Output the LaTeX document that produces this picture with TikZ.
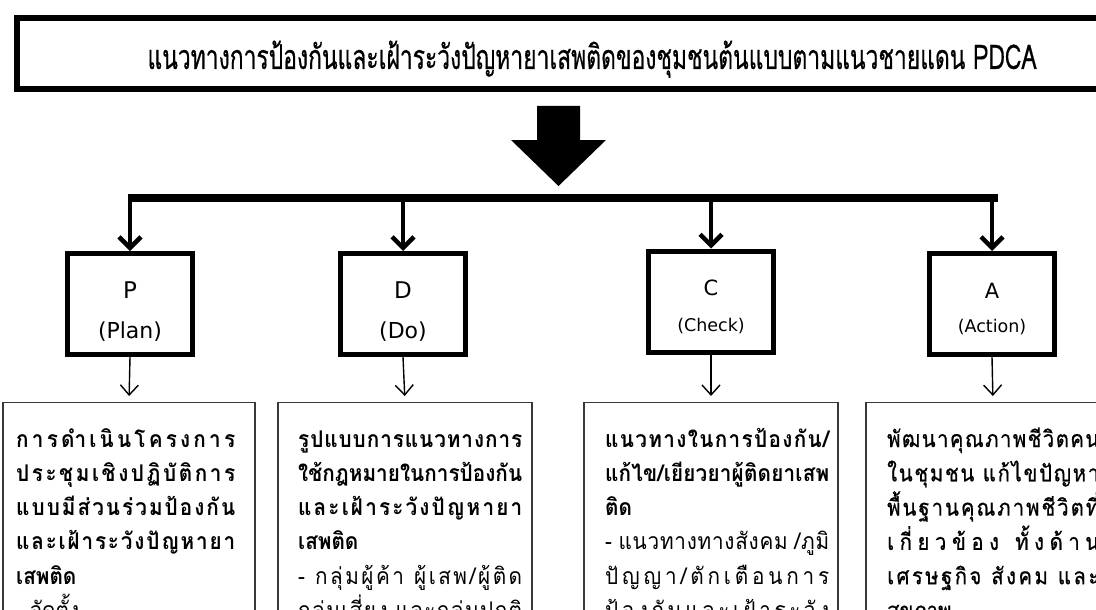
\documentclass[tikz,border=0pt]{standalone}
\usepackage{fontspec}
\usepackage{graphicx}
\setmainfont{Loma}[Script=Thai]
\newfontfamily\titlefont{Loma}[Script=Thai,FakeBold=0.6]
\newfontfamily\boxfont{Loma}[Script=Thai,FakeStretch=0.9]
\newfontfamily\medfont{Loma}[Script=Thai,FakeStretch=0.88,FakeBold=0.7]
\newfontfamily\labfont{DejaVu Sans}
\usetikzlibrary{arrows.meta}
\newcommand\gp{\hfill}
\newlength\lw
\newcommand\dl[1]{\makebox[\lw][s]{#1}\\}
\begin{document}
\begin{tikzpicture}[x=1pt,y=-1pt,
  titlebox/.style={draw, line width=6pt, minimum width=1150pt, minimum height=71pt, inner sep=0pt},
  headbox/.style={draw, line width=5pt, minimum width=125pt, minimum height=101pt, inner sep=0pt},
  detailbox/.style={draw=black!78, line width=1.3pt, minimum width=252pt, minimum height=400pt, anchor=north, inner sep=0pt},
  lab/.style={anchor=base, inner sep=0pt},
  txtblk/.style={anchor=base west, inner sep=0pt},
  busline/.style={line width=8pt},
  droparrow/.style={line width=4.5pt, -{Straight Barb[length=11pt,width=22pt]}},
  thinarrow/.style={line width=1.4pt, -{Straight Barb[length=10pt,width=18pt]}, shorten >=6pt}]
\useasboundingbox (0,0) rectangle (1096,610);
\clip (0,0) rectangle (1096,610);
% title
\node[titlebox] (tb) at (592,53.5) {};
\node[lab] (tt) at (592,69) {\fontsize{34}{38}\titlefont\resizebox{889pt}{\height}{แนวทางการป้องกันและเฝ้าระวังปัญหายาเสพติดของชุมชนต้นแบบตามแนวชายแดน PDCA}};
% big arrow
\fill (537,106) -- (580,106) -- (580,140) -- (606,140) -- (558.5,186) -- (511,140) -- (537,140) -- cycle;
% bus
\coordinate (busL) at (128,198);
\coordinate (busR) at (998,198);
\draw[busline] (busL) -- (busR);
% head boxes
\node[headbox] (hp) at (130,304) {};
\node[headbox] (hd) at (403,304) {};
\node[headbox] (hc) at (711,301.5) {};
\node[headbox] (ha) at (992,304) {};
\node[lab] (hpl) at (130,298) {\fontsize{23}{28}\labfont P};
\node[lab] (hpn) at (130,338) {\fontsize{22}{28}\labfont (Plan)};
\node[lab] (hdl) at (403,298) {\fontsize{23}{28}\labfont D};
\node[lab] (hdn) at (403,338) {\fontsize{22}{28}\labfont (Do)};
\node[lab] (hcl) at (711,295) {\fontsize{21}{28}\labfont C};
\node[lab] (hcn) at (711,331) {\fontsize{17.5}{24}\labfont (Check)};
\node[lab] (hal) at (992,298) {\fontsize{21}{28}\labfont A};
\node[lab] (han) at (992,332) {\fontsize{17.5}{24}\labfont (Action)};
\foreach \n in {hp,hd,hc,ha} \draw[droparrow] (\n.north |- busL) -- (\n.north);
% detail boxes
\node[detailbox] (dp) at (129,402) {};
\node[detailbox, minimum width=254pt] (dd) at (405,402) {};
\node[detailbox, minimum width=254pt] (dc) at (711,402) {};
\node[detailbox, minimum width=254pt] (da) at (993,402) {};
\draw[thinarrow] (hp.south) -- (dp.north);
\draw[thinarrow] (hd.south) -- (dd.north);
\draw[thinarrow] (hc.south) -- (dc.north);
\draw[thinarrow] (ha.south) -- (da.north);
% texts
\node[txtblk] (tp) at (16,447) {\begin{minipage}[t]{260pt}\setlength\lw{219pt}\fontsize{23}{34.3}\boxfont\bfseries
\dl{ก\gp า\gp ร\gp ดำ\gp เ\gp นิ\gp น\gp โ\gp ค\gp ร\gp ง\gp ก\gp า\gp ร}
\dl{ป\gp ร\gp ะ\gp ชุ\gp ม\gp เ\gp ชิ\gp ง\gp ป\gp ฏิ\gp บั\gp ติ\gp ก\gp า\gp ร}
\dl{แ\gp บ\gp บ\gp มี\gp ส่\gp ว\gp น\gp ร่\gp ว\gp ม\gp ป้\gp อ\gp ง\gp กั\gp น}
\dl{แ\gp ล\gp ะ\gp เ\gp ฝ้\gp า\gp ร\gp ะ\gp วั\gp ง\gp ปั\gp ญ\gp ห\gp า\gp ย\gp า}
เสพติด\\
\mdseries - จัดตั้ง
\end{minipage}};
\node[txtblk] (td) at (298,447) {\begin{minipage}[t]{260pt}\setlength\lw{224pt}\fontsize{23}{34.3}\boxfont\bfseries
\dl{รู\gp ป\gp แ\gp บ\gp บ\gp ก\gp า\gp ร\gp แ\gp น\gp ว\gp ท\gp า\gp ง\gp ก\gp า\gp ร}
\dl{ใ\gp ช้\gp ก\gp ฎ\gp ห\gp ม\gp า\gp ย\gp ใ\gp น\gp ก\gp า\gp ร\gp ป้\gp อ\gp ง\gp กั\gp น}
\dl{แ\gp ล\gp ะ\gp เ\gp ฝ้\gp า\gp ร\gp ะ\gp วั\gp ง\gp ปั\gp ญ\gp ห\gp า\gp ย\gp า}
เสพติด\\
\mdseries
\dl{-\gp\hspace{5pt}\gp ก\gp ลุ่\gp ม\gp ผู้\gp ค้\gp า\gp\hspace{5pt}\gp ผู้\gp เ\gp ส\gp พ\gp /\gp ผู้\gp ติ\gp ด}
\dl{ก\gp ลุ่\gp ม\gp เ\gp สี่\gp ย\gp ง\gp\hspace{5pt}\gp แ\gp ล\gp ะ\gp ก\gp ลุ่\gp ม\gp ป\gp ก\gp ติ}
\end{minipage}};
\node[txtblk] (tc) at (605,447) {\begin{minipage}[t]{260pt}\setlength\lw{224pt}\fontsize{23}{34.3}\boxfont\bfseries
\dl{แ\gp น\gp ว\gp ท\gp า\gp ง\gp ใ\gp น\gp ก\gp า\gp ร\gp ป้\gp อ\gp ง\gp กั\gp น\gp /}
\dl{แ\gp ก้\gp ไ\gp ข\gp /\gp เ\gp ยี\gp ย\gp ว\gp ย\gp า\gp ผู้\gp ติ\gp ด\gp ย\gp า\gp เ\gp ส\gp พ}
ติด\\
\mdseries
\dl{-\gp\hspace{5pt}\gp แ\gp น\gp ว\gp ท\gp า\gp ง\gp ท\gp า\gp ง\gp สั\gp ง\gp ค\gp ม\gp\hspace{5pt}\gp /\gp ภู\gp มิ}
\dl{ปั\gp ญ\gp ญ\gp า\gp /\gp ตั\gp ก\gp เ\gp ตื\gp อ\gp น\gp ก\gp า\gp ร}
\dl{ป้\gp อ\gp ง\gp กั\gp น\gp แ\gp ล\gp ะ\gp เ\gp ฝ้\gp า\gp ร\gp ะ\gp วั\gp ง}
\end{minipage}};
\node[txtblk] (ta) at (887,447) {\begin{minipage}[t]{260pt}\setlength\lw{212pt}\fontsize{23}{34.3}\medfont
\dl{พั\gp ฒ\gp น\gp า\gp คุ\gp ณ\gp ภ\gp า\gp พ\gp ชี\gp วิ\gp ต\gp ค\gp น}
\dl{ใ\gp น\gp ชุ\gp ม\gp ช\gp น\gp\hspace{5pt}\gp แ\gp ก้\gp ไ\gp ข\gp ปั\gp ญ\gp ห\gp า}
\dl{พื้\gp น\gp ฐ\gp า\gp น\gp คุ\gp ณ\gp ภ\gp า\gp พ\gp ชี\gp วิ\gp ต\gp ที่}
\dl{เ\gp กี่\gp ย\gp ว\gp ข้\gp อ\gp ง\gp\hspace{5pt}\gp ทั้\gp ง\gp ด้\gp า\gp น}
\dl{เ\gp ศ\gp ร\gp ษ\gp ฐ\gp กิ\gp จ\gp\hspace{5pt}\gp สั\gp ง\gp ค\gp ม\gp\hspace{5pt}\gp แ\gp ล\gp ะ}
สุขภาพ
\end{minipage}};
\end{tikzpicture}
\end{document}
